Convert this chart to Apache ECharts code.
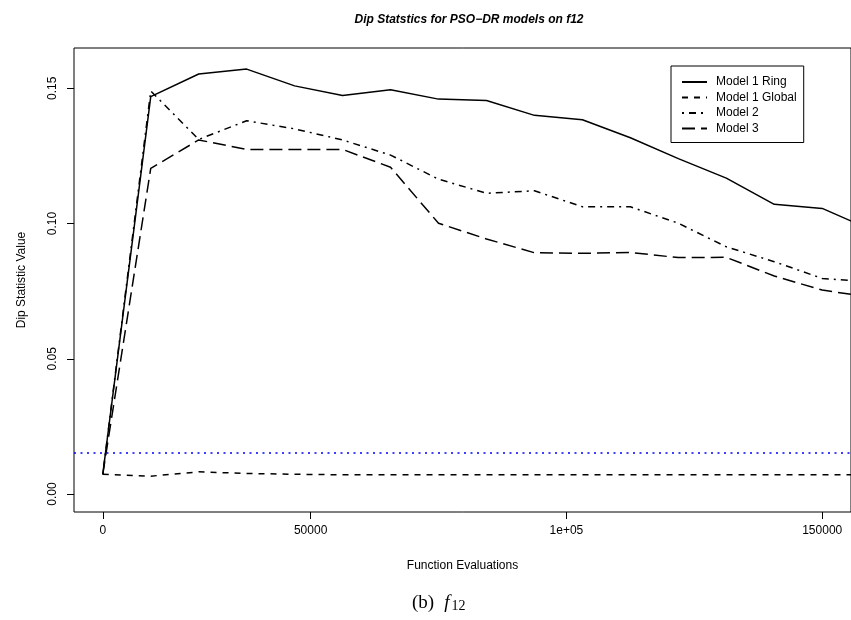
<!DOCTYPE html>
<html>
<head>
<meta charset="utf-8">
<script src="https://cdn.jsdelivr.net/npm/echarts@6/dist/echarts.min.js"></script>
<style>
html,body{margin:0;padding:0;background:#ffffff;}
#chart{width:851px;height:620px;}
</style>
</head>
<body>
<div id="chart"></div>
<script>
// ---- data ----
const evaluations = [9375, 18750, 28125, 37500, 46875, 56250, 65625, 75000, 84375, 93750, 103125, 112500, 121875, 131250, 140625, 150000, 159375];
const model1Ring   = [0.0073, 0.1469, 0.1553, 0.1571, 0.1509, 0.1473, 0.1495, 0.1460, 0.1455, 0.1400, 0.1384, 0.1317, 0.1240, 0.1168, 0.1071, 0.1056, 0.0978];
const model1Global = [0.0073, 0.0066, 0.0082, 0.0076, 0.0073, 0.0071, 0.0071, 0.0071, 0.0071, 0.0071, 0.0071, 0.0071, 0.0071, 0.0071, 0.0071, 0.0071, 0.0071];
const model2       = [0.0073, 0.1490, 0.1311, 0.1380, 0.1350, 0.1309, 0.1253, 0.1164, 0.1112, 0.1121, 0.1062, 0.1062, 0.1001, 0.0914, 0.0859, 0.0797, 0.0784];
const model3       = [0.0073, 0.1204, 0.1309, 0.1274, 0.1274, 0.1274, 0.1208, 0.1001, 0.0943, 0.0892, 0.0890, 0.0893, 0.0874, 0.0875, 0.0806, 0.0754, 0.0728];
const seriesNames  = ['Model 1 Ring', 'Model 1 Global', 'Model 2', 'Model 3'];
const dipThreshold = 0.0153;
const xTickValues = [9375, 50000, 100000, 150000];
const xTickLabels = ['0', '50000', '1e+05', '150000'];
const yTickValues = [0, 0.05, 0.10, 0.15];
const yTickLabels = ['0.00', '0.05', '0.10', '0.15'];

const FONT = "'Liberation Sans', Arial, Helvetica, sans-serif";
const SERIF = "'Liberation Serif', 'DejaVu Serif', serif";

function pairs(ys) { return evaluations.map((x, i) => [x, ys[i]]); }
function lineSeries(name, ys, type, extra) {
  return Object.assign({
    name: name,
    type: 'line',
    data: pairs(ys),
    symbol: 'none',
    clip: true,
    silent: true,
    lineStyle: { color: '#000000', width: 1.5, type: type },
    itemStyle: { color: '#000000' }
  }, extra || {});
}

const chart = echarts.init(document.getElementById('chart'), null, { renderer: 'canvas' });
chart.setOption({
  animation: false,
  backgroundColor: '#ffffff',
  title: [
    {
      text: 'Dip Statstics for PSO\u2212DR models on f12',
      left: 464, top: 9, textAlign: 'center',
      textStyle: { fontFamily: FONT, fontSize: 12, fontWeight: 'bold', fontStyle: 'italic', color: '#000000' }
    },
    {
      text: '{a|(b)}  {f|f}{s|12}',
      left: 412, top: 592, padding: 0,
      textStyle: {
        fontWeight: 'normal',
        rich: {
          a: { fontFamily: SERIF, fontSize: 19, fontWeight: 'normal', color: '#000000', lineHeight: 22 },
          f: { fontFamily: SERIF, fontSize: 19, fontWeight: 'normal', fontStyle: 'italic', color: '#000000', lineHeight: 22 },
          s: { fontFamily: SERIF, fontSize: 14, fontWeight: 'normal', color: '#000000', lineHeight: 22, padding: [7, 0, 0, 2] }
        }
      }
    }
  ],
  legend: {
    orient: 'vertical',
    left: 671, top: 66,
    padding: [10, 7, 8, 10],
    itemWidth: 25, itemHeight: 12, itemGap: 3.5,
    borderColor: '#000000', borderWidth: 1, backgroundColor: '#ffffff',
    selectedMode: false,
    itemStyle: { color: 'rgba(0,0,0,0)', borderColor: 'rgba(0,0,0,0)', borderWidth: 0, opacity: 0 },
    textStyle: { fontFamily: FONT, fontSize: 12, color: '#000000', padding: [0, 0, 0, 4] },
    data: seriesNames
  },
  grid: {
    left: 74, right: -2, top: 48, bottom: 108,
    show: true, borderColor: '#000000', borderWidth: 1, backgroundColor: 'transparent'
  },
  xAxis: {
    type: 'value', min: 3750, max: 155625,
    name: 'Function Evaluations', nameLocation: 'middle', nameGap: 48,
    nameTextStyle: { fontFamily: FONT, fontSize: 12, color: '#000000' },
    axisLine: { show: false, onZero: false },
    splitLine: { show: false },
    axisTick: { show: true, customValues: xTickValues, length: 7, lineStyle: { color: '#000000', width: 1 } },
    axisLabel: {
      customValues: xTickValues, margin: 13,
      fontFamily: FONT, fontSize: 12, color: '#000000',
      formatter: v => { const i = xTickValues.indexOf(v); return i >= 0 ? xTickLabels[i] : ''; }
    }
  },
  yAxis: {
    type: 'value', min: -0.00665, max: 0.1649,
    name: 'Dip Statistic Value', nameLocation: 'middle', nameGap: 46,
    nameTextStyle: { fontFamily: FONT, fontSize: 12, color: '#000000' },
    axisLine: { show: false, onZero: false },
    splitLine: { show: false },
    axisTick: { show: true, customValues: yTickValues, length: 7, lineStyle: { color: '#000000', width: 1 } },
    axisLabel: {
      customValues: yTickValues, rotate: 90, margin: 15,
      fontFamily: FONT, fontSize: 12, color: '#000000',
      formatter: v => { const i = yTickValues.findIndex(t => Math.abs(t - v) < 1e-9); return i >= 0 ? yTickLabels[i] : ''; }
    }
  },
  series: [
    lineSeries(seriesNames[0], model1Ring, 'solid', {
      markLine: {
        silent: true, symbol: ['none', 'none'], label: { show: false },
        precision: 6,
        lineStyle: { color: '#0000ff', width: 1.5, type: [2, 4.5] },
        data: [{ yAxis: dipThreshold }]
      }
    }),
    lineSeries(seriesNames[1], model1Global, [6, 6]),
    lineSeries(seriesNames[2], model2, [2, 5, 7, 5]),
    lineSeries(seriesNames[3], model3, [13, 6])
  ]
});
</script>
</body>
</html>
